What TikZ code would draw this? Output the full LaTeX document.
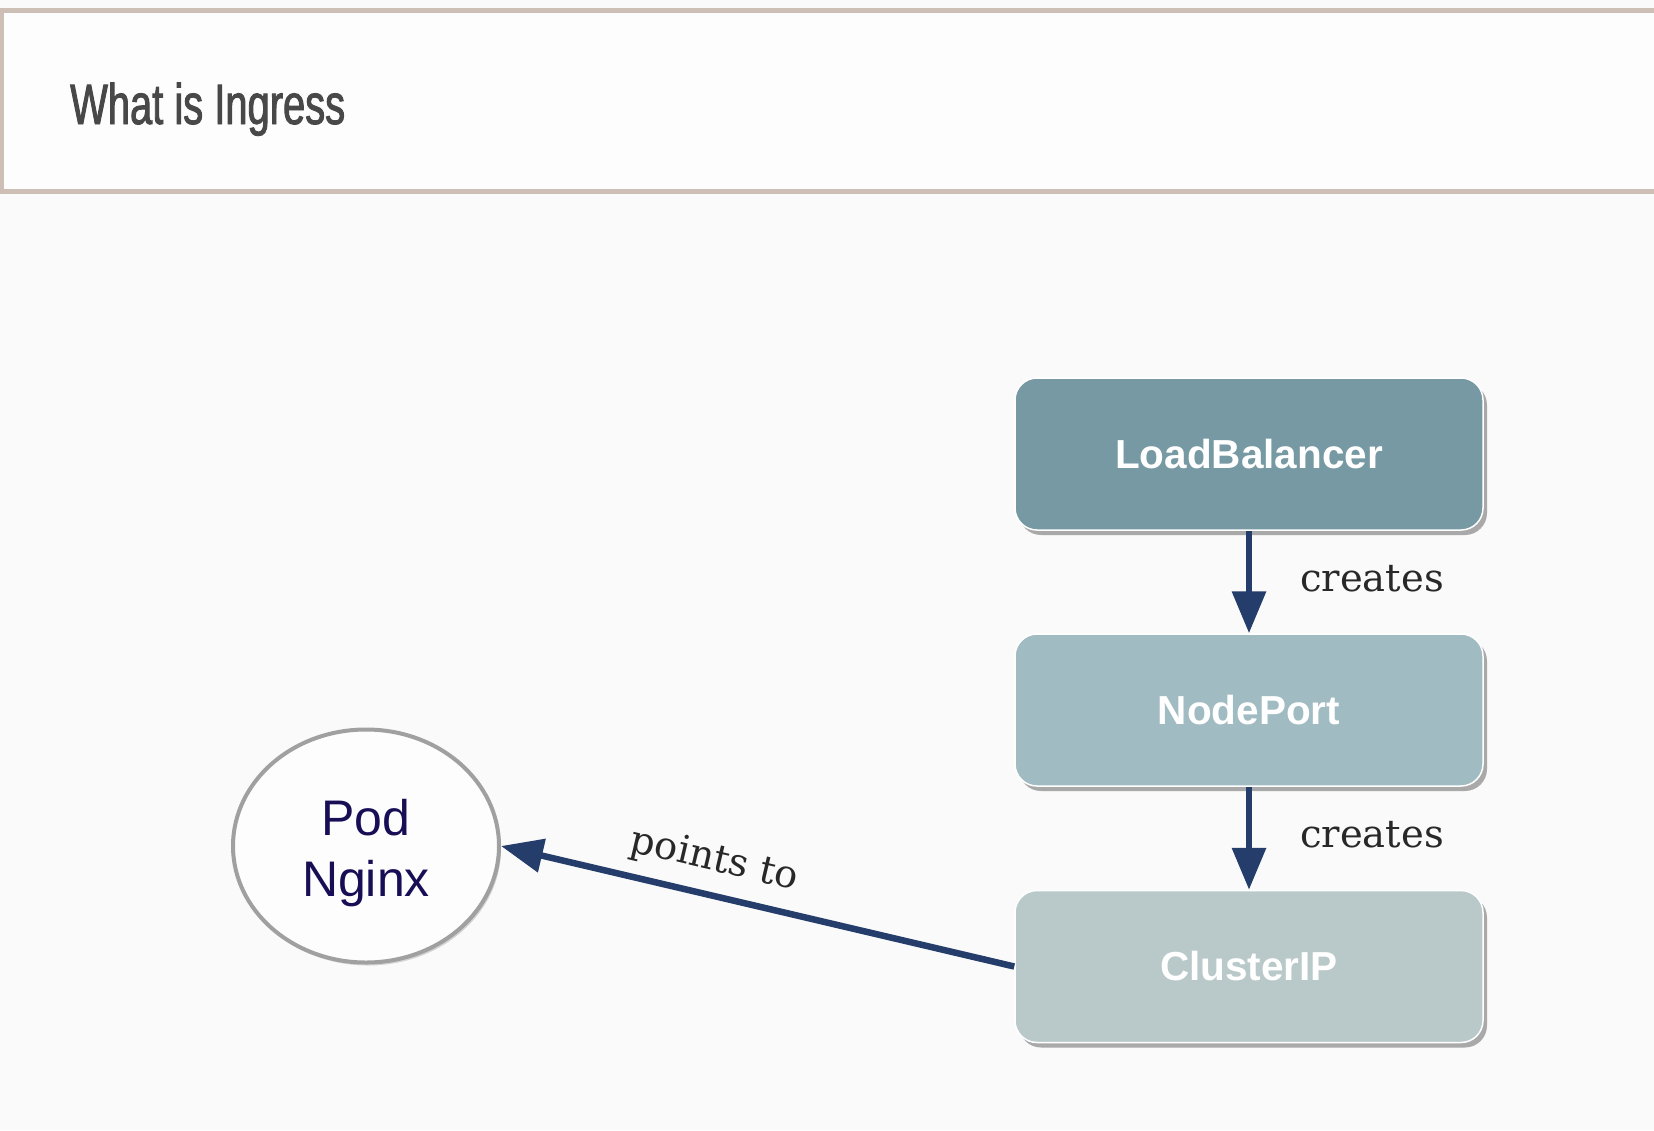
\documentclass[tikz,border=0pt]{standalone}
\usepackage{fontspec}
\usetikzlibrary{arrows.meta,shapes.geometric,shadows}
\newfontfamily\titlefont[FakeStretch=0.70,FakeBold=1.6]{Liberation Sans}
\newfontfamily\boxfont{Liberation Sans}
\newfontfamily\slabfont{DejaVu Serif}
\newfontfamily\podfont{Liberation Sans}
\definecolor{bgc}{RGB}{250,250,250}
\definecolor{hdrborder}{RGB}{206,191,182}
\definecolor{titlec}{RGB}{72,72,72}
\definecolor{lbfill}{RGB}{118,153,163}
\definecolor{npfill}{RGB}{161,187,194}
\definecolor{cifill}{RGB}{185,201,201}
\definecolor{arrowc}{RGB}{36,61,106}
\definecolor{labelc}{RGB}{40,40,40}
\definecolor{podtext}{RGB}{24,14,86}
\definecolor{podborder}{RGB}{160,160,160}
\tikzset{
  svcbox/.style={rectangle, rounded corners=22pt, minimum width=468pt, minimum height=152pt,
    draw=white, line width=1.5pt, text=white, font=\boxfont\bfseries\fontsize{40.5}{45}\selectfont,
    drop shadow={shadow xshift=4pt, shadow yshift=-5pt, fill=black!65, opacity=0.5}},
  flowarrow/.style={draw=arrowc, line width=6.5pt, -{Triangle[length=42pt,width=33pt]}},
  relabel/.style={text=labelc, font=\slabfont\fontsize{38.5}{42}\selectfont, inner sep=0pt},
}
\begin{document}
\begin{tikzpicture}[x=1pt,y=-1pt]
\fill[bgc] (0,0) rectangle (1654,1130);
\useasboundingbox (0,0) rectangle (1654,1130);
\draw[hdrborder, line width=5pt, fill=white!60!bgc] (1.5,10.5) rectangle (1670,191);
\node[anchor=base west, inner sep=0pt, text=titlec, font=\titlefont\fontsize{57}{60}\selectfont] (title) at (70,124) {What is Ingress};

\node[svcbox, fill=lbfill] (lb) at (1249,454) {LoadBalancer};
\node[svcbox, fill=npfill] (np) at (1249,710) {NodePort};
\node[svcbox, fill=cifill] (ci) at (1249,966.5) {ClusterIP};

\node[ellipse, minimum width=266pt, minimum height=233pt, draw=podborder, line width=4pt, fill=white!60!bgc,
  drop shadow={shadow xshift=2pt, shadow yshift=-3pt, fill=black!40, opacity=0.4}] (pod) at (366,846) {};
\node[align=center, text=podtext, inner sep=0pt, font=\podfont\fontsize{50}{61}\selectfont] (podlbl) at (366,853) {Pod\\Nginx};

\draw[flowarrow] (lb) -- (np);
\draw[flowarrow] (np) -- (ci);
\node[relabel, anchor=west] (c1) at (1300,579) {creates};
\node[relabel, anchor=west] (c2) at (1300,835) {creates};

\draw[flowarrow] (ci.west) -- (pod.east) node[pos=0.6, sloped, above=13pt, relabel] (pt) {points to};
\end{tikzpicture}
\end{document}
